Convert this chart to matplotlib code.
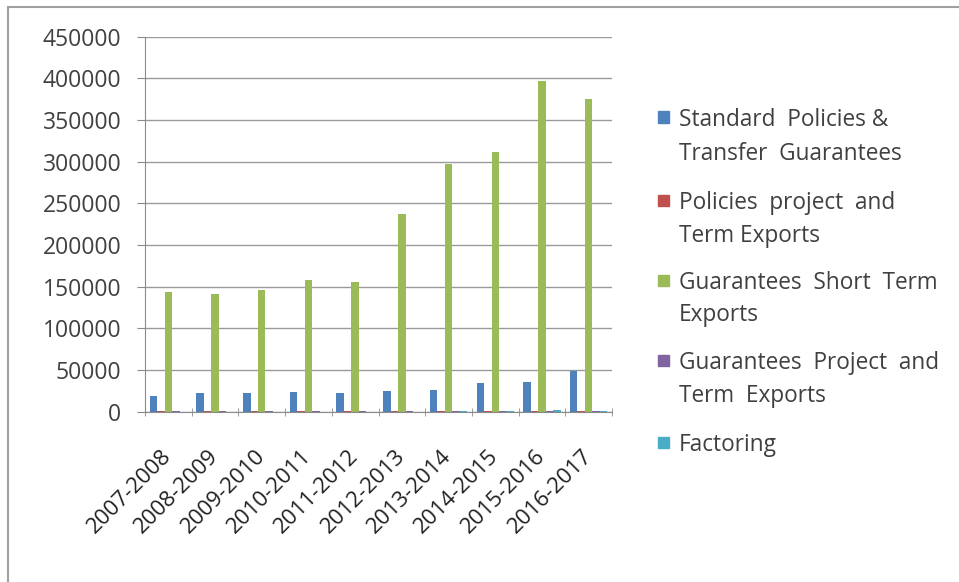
import numpy as np
import matplotlib.pyplot as plt
from matplotlib.patches import Rectangle

years = ['2007-2008', '2008-2009', '2009-2010', '2010-2011', '2011-2012',
         '2012-2013', '2013-2014', '2014-2015', '2015-2016', '2016-2017']

standard = [18800, 22800, 22000, 23300, 22000, 25200, 26400, 34000, 35600, 49200]
policies_project = [600, 700, 700, 800, 800, 900, 1000, 1100, 1200, 1300]
short_term = [143300, 140900, 146000, 158000, 156000, 237000, 297000, 311600, 396800, 375000]
guar_project = [300, 300, 400, 400, 500, 500, 600, 700, 900, 1000]
factoring = [0, 0, 0, 0, 0, 200, 400, 800, 1500, 1200]

labels = [['Standard  Policies &', 'Transfer  Guarantees'],
          ['Policies  project  and', 'Term Exports'],
          ['Guarantees  Short  Term', 'Exports'],
          ['Guarantees  Project  and', 'Term  Exports'],
          ['Factoring']]
colors = ['#4F81BD', '#C0504D', '#9BBB59', '#8064A2', '#4BACC6']
series = [standard, policies_project, short_term, guar_project, factoring]

plt.rcParams['font.family'] = ['Open Sans', 'DejaVu Sans']
W, H = 959, 582
fig = plt.figure(figsize=(W / 100, H / 100), dpi=100)
fig.patches.append(Rectangle((8 / W, -0.01), 1.1, 1 - 7 / H + 0.01, transform=fig.transFigure,
                             fill=False, edgecolor='#a0a0a0', linewidth=1.5))
ax = fig.add_axes([145 / W, 1 - 411.7 / H, 467 / W, 375 / H])

x = np.arange(len(years))
w = 0.16
for i, (vals, c) in enumerate(zip(series, colors)):
    ax.bar(x + (i - 2) * w, vals, width=w, color=c)

ax.set_xlim(-0.5, len(years) - 0.5)
ax.set_ylim(0, 450000)
ax.set_yticks(np.arange(0, 450001, 50000))
ax.yaxis.grid(True, color='#9a9a9a', linewidth=1)
ax.set_axisbelow(True)
for s in ['top', 'right']:
    ax.spines[s].set_visible(False)
for s in ['left', 'bottom']:
    ax.spines[s].set_color('#8a8a8a')

ax.set_xticks(x)
ax.set_xticklabels(years, rotation=45, ha='right', va='center',
                   rotation_mode='anchor', fontsize=16)
ax.tick_params(axis='x', length=0, pad=30, labelcolor='#222222')
ax.set_xticks(np.arange(-0.5, len(years)), minor=True)
ax.tick_params(axis='x', which='minor', length=6, color='#8a8a8a', direction='inout')
ax.tick_params(axis='y', labelsize=16.5, length=6, color='#8a8a8a', pad=11,
               labelcolor='#404040')

# legend drawn by hand so the square sits beside the first line
line_y = [[117, 151], [200, 233], [280, 312], [360, 393], [442]]
for c, lines, ys in zip(colors, labels, line_y):
    fig.patches.append(Rectangle((658 / W, 1 - (ys[0] + 5.5) / H), 11 / W, 11 / H,
                                 transform=fig.transFigure, color=c))
    for txt, yy in zip(lines, ys):
        fig.text(679 / W, 1 - yy / H, txt, fontsize=16.3, color='#404040',
                 va='center_baseline', ha='left')

fig.savefig('out.png', dpi=100)
